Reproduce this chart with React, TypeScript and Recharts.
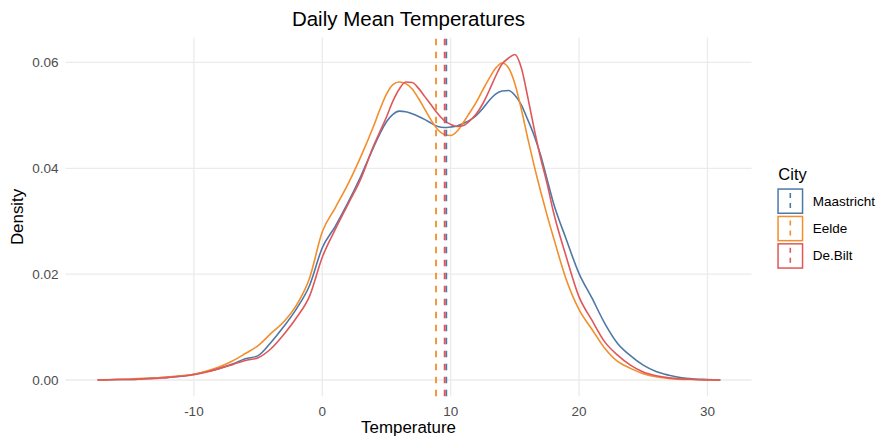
import React from 'react';
import {
  LineChart,
  Line,
  XAxis,
  YAxis,
  CartesianGrid,
  ReferenceLine,
  Legend,
} from 'recharts';

// ---- data ----
const temps = [
  -17.5, -16, -15, -14, -13, -12, -11, -10, -9, -8,
  -7, -6, -5, -4, -3, -2, -1, 0, 1, 2,
  3, 4, 4.5, 5, 5.5, 6, 6.5, 7, 7.5, 8,
  8.5, 9, 9.5, 10, 10.5, 11, 11.5, 12, 12.5, 13,
  13.5, 14, 14.5, 15, 15.5, 16, 16.5, 17, 17.5, 18,
  19, 20, 21, 22, 23, 24, 25, 26, 27, 28,
  29, 30, 31,
];

const maastricht = [
  0, 0.0001, 0.0001, 0.0002, 0.0004, 0.0005, 0.0007, 0.0011, 0.0016, 0.0022,
  0.003, 0.004, 0.0046, 0.0071, 0.0101, 0.0135, 0.0178, 0.025, 0.029, 0.0335,
  0.0385, 0.044, 0.0466, 0.0488, 0.0502, 0.0508, 0.0507, 0.0503, 0.0498, 0.0492,
  0.0485, 0.0479, 0.0477, 0.0478, 0.048, 0.0485, 0.0491, 0.05, 0.0513, 0.0528,
  0.054, 0.0546, 0.0547, 0.0538, 0.052, 0.0492, 0.0462, 0.0425, 0.038, 0.0335,
  0.0266, 0.0201, 0.0155, 0.0107, 0.0069, 0.0046, 0.0028, 0.0016, 0.0009, 0.0004,
  0.0002, 0.0001, 0,
];

const eelde = [
  0, 0.0001, 0.0002, 0.0003, 0.0004, 0.0006, 0.0008, 0.0011, 0.0017, 0.0025,
  0.0036, 0.005, 0.0065, 0.0088, 0.011, 0.0142, 0.0192, 0.028, 0.0325, 0.037,
  0.0422, 0.048, 0.0512, 0.054, 0.0558, 0.0563, 0.056, 0.055, 0.0532, 0.0511,
  0.049, 0.0473, 0.0464, 0.0462, 0.047, 0.0487, 0.0506, 0.0525, 0.0548, 0.057,
  0.0589, 0.0599, 0.059, 0.056, 0.0512, 0.0457, 0.0405, 0.0357, 0.0312, 0.027,
  0.019, 0.0133, 0.0096, 0.006, 0.0035, 0.0022, 0.0012, 0.0006, 0.0003, 0.0001,
  0.0001, 0, 0,
];

const deBilt = [
  0, 0.0001, 0.0001, 0.0002, 0.0003, 0.0005, 0.0007, 0.001, 0.0015, 0.0022,
  0.0029, 0.0037, 0.0042, 0.0059, 0.0086, 0.0118, 0.0158, 0.0232, 0.0284, 0.0332,
  0.038, 0.0443, 0.047, 0.0497, 0.0527, 0.055, 0.0563, 0.0562, 0.0551, 0.0535,
  0.0519, 0.0503, 0.049, 0.0483, 0.0479, 0.0481, 0.049, 0.0503, 0.0522, 0.0547,
  0.0574, 0.0597, 0.0608, 0.0615, 0.059, 0.0535, 0.0475, 0.042, 0.0372, 0.0318,
  0.0233, 0.0157, 0.0113, 0.0072, 0.0047, 0.0028, 0.0015, 0.0008, 0.0004, 0.0002,
  0.0001, 0, 0,
];

const cities = ['Maastricht', 'Eelde', 'De.Bilt'];
const cityKeys = ['maastricht', 'eelde', 'deBilt'];
const cityMeans = [9.66, 8.86, 9.53];
const xTicks = [-10, 0, 10, 20, 30];
const yTicks = [0, 0.02, 0.04, 0.06];
const xDomain = [-20.0, 33.43];
const yDomain = [-0.00308, 0.0647];

// ---- styles ----
const cityColors = ['#4E79A7', '#F28E2B', '#E15759'];
const FONT = '"Liberation Sans", Arial, Helvetica, sans-serif';

const tableData = temps.map((t, i) => ({
  t,
  maastricht: maastricht[i],
  eelde: eelde[i],
  deBilt: deBilt[i],
}));

const XTitle = (props: any) => {
  const vb = props.viewBox || { x: 65.5, y: 396.3, width: 686, height: 46.7 };
  const cx = vb.x + vb.width / 2;
  const y = vb.y + vb.height - 9.7;
  return (
    <text x={cx} y={y} textAnchor="middle" fontSize={16.9} fill="#000" fontFamily={FONT}>
      Temperature
    </text>
  );
};

const YTitle = (props: any) => {
  const vb = props.viewBox || { x: 0, y: 37.6, width: 65.5, height: 358.7 };
  const x = vb.x + 23;
  const y = vb.y + vb.height / 2;
  return (
    <text
      x={x}
      y={y}
      transform={`rotate(-90, ${x}, ${y})`}
      textAnchor="middle"
      fontSize={16.9}
      fill="#000"
      fontFamily={FONT}
    >
      Density
    </text>
  );
};

const CityLegend = () => {
  const keyH = 25.7;
  const keyW = 26;
  const step = 27.4;
  return (
    <svg width={110} height={115} style={{ overflow: 'visible' }}>
      <text x={8.3} y={20} fontSize={16.5} fill="#000" fontFamily={FONT}>
        City
      </text>
      {cities.map((c, i) => {
        const top = 28.3 + i * step;
        return (
          <g key={c}>
            <rect
              x={7.3 + 0.75}
              y={top + 0.75}
              width={keyW - 1.5}
              height={keyH - 1.5}
              fill="none"
              stroke={cityColors[i]}
              strokeWidth={1.5}
            />
            <line
              x1={7.3 + keyW / 2}
              x2={7.3 + keyW / 2}
              y1={top + 0.75}
              y2={top + keyH - 0.75}
              stroke={cityColors[i]}
              strokeWidth={1.6}
              strokeDasharray="5 5"
              strokeDashoffset={-4}
            />
            <text
              x={42.7}
              y={top + keyH / 2}
              dominantBaseline="central"
              fontSize={13.5}
              fill="#000"
              fontFamily={FONT}
            >
              {c}
            </text>
          </g>
        );
      })}
    </svg>
  );
};

const scaleOf = (axis: any, v: number, fallback: () => number) => {
  if (axis && typeof axis.scale === 'function') {
    const r = axis.scale(v);
    if (typeof r === 'number' && !isNaN(r)) return r;
  }
  return fallback();
};

const hGen = (props: any) => {
  const { yAxis, offset } = props;
  return yTicks.map((v) =>
    scaleOf(yAxis, v, () => offset.top + offset.height * (1 - (v - yDomain[0]) / (yDomain[1] - yDomain[0])))
  );
};

const vGen = (props: any) => {
  const { xAxis, offset } = props;
  return xTicks.map((v) =>
    scaleOf(xAxis, v, () => offset.left + (offset.width * (v - xDomain[0])) / (xDomain[1] - xDomain[0]))
  );
};

export default function App() {
  return (
    <div style={{ position: 'absolute', left: 0, top: 0, width: 880, height: 443, background: '#fff' }}>
      <LineChart
        width={880}
        height={443}
        data={tableData}
        margin={{ top: 37.6, right: 128.5, bottom: 0, left: 0 }}
      >
        <CartesianGrid
          stroke="#EBEBEB"
          strokeWidth={1.3}
          horizontalCoordinatesGenerator={hGen}
          verticalCoordinatesGenerator={vGen}
        />
        <XAxis
          dataKey="t"
          type="number"
          domain={xDomain}
          allowDataOverflow
          ticks={xTicks}
          height={46.7}
          axisLine={false}
          tickLine={false}
          tickSize={0}
          tickMargin={10.4}
          tick={{ fontSize: 13.5, fill: '#4D4D4D', fontFamily: FONT }}
          label={XTitle}
          interval={0}
        />
        <YAxis
          type="number"
          domain={yDomain}
          allowDataOverflow
          ticks={yTicks}
          width={65.5}
          axisLine={false}
          tickLine={false}
          tickSize={0}
          tickMargin={7}
          tick={{ fontSize: 13.5, fill: '#4D4D4D', fontFamily: FONT }}
          tickFormatter={(v: number) => v.toFixed(2)}
          label={YTitle}
          interval={0}
        />
        {cityKeys.map((k, i) => (
          <Line
            key={k}
            dataKey={k}
            name={cities[i]}
            type="monotone"
            stroke={cityColors[i]}
            strokeWidth={1.6}
            dot={false}
            activeDot={false}
            isAnimationActive={false}
          />
        ))}
        {cityMeans.map((m, i) => (
          <ReferenceLine
            key={cities[i]}
            x={m}
            stroke={cityColors[i]}
            strokeWidth={1.8}
            strokeDasharray="6.5 6.5"
          />
        ))}
        <Legend
          layout="vertical"
          align="center"
          verticalAlign="middle"
          wrapperStyle={{ left: 770, top: 160, width: 110, height: 115 }}
          content={CityLegend}
        />
      </LineChart>
      <svg
        width={880}
        height={40}
        style={{ position: 'absolute', left: 0, top: 0, pointerEvents: 'none' }}
      >
        <text x={408.5} y={26} textAnchor="middle" fontSize={20.5} fill="#000" fontFamily={FONT}>
          Daily Mean Temperatures
        </text>
      </svg>
    </div>
  );
}
